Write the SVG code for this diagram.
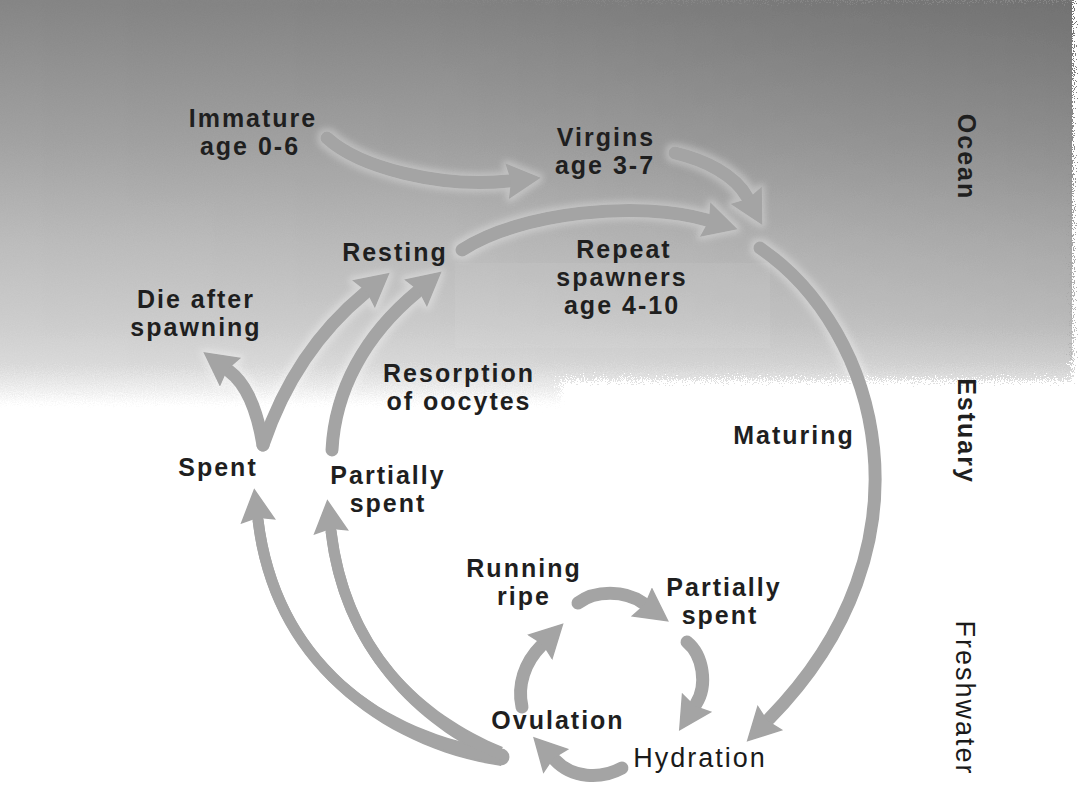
<svg xmlns="http://www.w3.org/2000/svg" width="1080" height="785" viewBox="0 0 1080 785">
<defs>
<style>
.t{font-family:"Liberation Sans",Arial,Helvetica,sans-serif;font-weight:bold;font-size:25px;letter-spacing:2px;fill:#1f1f1f;text-anchor:middle}
.rg{font-family:"Liberation Sans",Arial,Helvetica,sans-serif;font-weight:normal;font-size:27px;letter-spacing:2px;fill:#1a1a1a;text-anchor:middle}
.arr{fill:none;stroke:#a4a4a4;stroke-width:13;stroke-linecap:round;marker-end:url(#ah)}
.thin{stroke-width:11}
.taper{fill:#a4a4a4;stroke:none}
</style>
<linearGradient id="bgv" x1="0" y1="0" x2="0" y2="405" gradientUnits="userSpaceOnUse">
<stop offset="0" stop-color="#858585"/>
<stop offset="0.35" stop-color="#a2a2a2"/>
<stop offset="0.6" stop-color="#bcbcbc"/>
<stop offset="0.8" stop-color="#cdcdcd"/>
<stop offset="0.9" stop-color="#d9d9d9"/>
<stop offset="0.96" stop-color="#eeeeee"/>
<stop offset="1" stop-color="#ffffff"/>
</linearGradient>
<linearGradient id="bgh" x1="0" y1="0" x2="1080" y2="0" gradientUnits="userSpaceOnUse">
<stop offset="0" stop-color="#000" stop-opacity="0"/>
<stop offset="0.4" stop-color="#000" stop-opacity="0.02"/>
<stop offset="1" stop-color="#000" stop-opacity="0.15"/>
</linearGradient>
<linearGradient id="bghfade" x1="0" y1="0" x2="0" y2="405" gradientUnits="userSpaceOnUse">
<stop offset="0" stop-color="#fff" stop-opacity="1"/>
<stop offset="0.8" stop-color="#fff" stop-opacity="0.6"/>
<stop offset="1" stop-color="#fff" stop-opacity="0"/>
</linearGradient>
<mask id="hmask"><rect x="0" y="0" width="1080" height="405" fill="url(#bghfade)"/></mask>
<filter id="rough" filterUnits="userSpaceOnUse" x="0" y="0" width="1080" height="440">
<feTurbulence type="fractalNoise" baseFrequency="0.9" numOctaves="2" seed="3" result="n"/>
<feDisplacementMap in="SourceGraphic" in2="n" scale="22" xChannelSelector="R" yChannelSelector="G"/>
</filter>
<filter id="halo" filterUnits="userSpaceOnUse" x="0" y="0" width="1080" height="785">
<feMorphology in="SourceAlpha" operator="dilate" radius="3" result="d"/>
<feGaussianBlur in="d" stdDeviation="3" result="b"/>
<feFlood flood-color="#ffffff" flood-opacity="0.3"/>
<feComposite in2="b" operator="in" result="h"/>
<feMerge><feMergeNode in="h"/><feMergeNode in="SourceGraphic"/></feMerge>
</filter>
<marker id="ah" viewBox="0 0 34 36" refX="2" refY="18" markerWidth="34" markerHeight="36" markerUnits="userSpaceOnUse" orient="auto">
<path d="M0,0 L34,18 L0,36 L4,18 Z" fill="#a4a4a4"/>
</marker>
</defs>

<rect x="0" y="0" width="1080" height="785" fill="#ffffff"/>

<g id="background">
<rect x="0" y="0" width="1072" height="360" fill="url(#bgv)"/>
<rect x="0" y="0" width="1072" height="360" fill="url(#bgh)"/>
<g filter="url(#rough)">
<path d="M-20,-20 H1072 V380 H560 V405 H-20 Z" fill="url(#bgv)"/>
<path d="M-20,-20 H1072 V380 H560 V405 H-20 Z" fill="url(#bgh)" mask="url(#hmask)"/>
</g>
<rect x="455" y="263" width="315" height="85" fill="#ffffff" opacity="0.06"/>
</g>

<g id="connectors" filter="url(#halo)">
<path class="arr" d="M327,138 C360,168 440,188 509,181"/>
<path class="arr" d="M675,153 C705,160 735,175 747,197"/>
<path class="arr" d="M462,250 C520,212 640,200 707,220"/>
<path class="arr" d="M760,248 C880,330 940,545 769,719"/>
<path class="arr" d="M263,445 C258,415 248,385 229,371"/>
<path class="arr" d="M263,445 C285,380 320,330 365,293"/>
<path class="arr" d="M332,450 C335,390 365,335 417,292"/>
<path class="taper" d="M503,750 C381,732.6 281,659 263.4,519.3 L252.6,520.7 C269,661 379,747.4 501,766 Z"/>
<path class="taper" d="M502.9,747.1 C422.7,713.5 350.9,649.3 336.4,530.3 L325.6,531.7 C339.1,650.7 417.3,726.5 497.1,760.9 Z"/>
<circle class="taper" cx="501" cy="757" r="8.5"/>
<path class="arr thin" d="M502,758 C380,740 275,660 258,520"/>
<path class="arr thin" d="M500,754 C420,720 345,650 331,531"/>
<path class="arr" d="M578,603 C595,590 625,590 643,603"/>
<path class="arr" d="M687,642 C703,655 708,685 696,704"/>
<path class="arr" d="M622,768 C600,780 572,778 555,760"/>
<path class="arr" d="M522,707 C517,685 525,662 541,646"/>
</g>

<g id="immature"><text class="t" x="253" y="127">Immature<tspan x="250" dy="28">age 0-6</tspan></text></g>
<g id="virgins"><text class="t" x="606" y="146">Virgins<tspan x="605" dy="28">age 3-7</tspan></text></g>
<g id="repeat-spawners"><text class="t" x="624" y="258">Repeat<tspan x="622" dy="28">spawners</tspan><tspan x="622" dy="28">age 4-10</tspan></text></g>
<g id="resting"><text class="t" x="395" y="261">Resting</text></g>
<g id="die-after-spawning"><text class="t" x="196" y="308">Die after<tspan x="196" dy="28">spawning</tspan></text></g>
<g id="resorption"><text class="t" x="459" y="382">Resorption<tspan x="459" dy="28">of oocytes</tspan></text></g>
<g id="maturing"><text class="t" x="794" y="444">Maturing</text></g>
<g id="spent"><text class="t" x="218" y="476">Spent</text></g>
<g id="partially-spent-a"><text class="t" x="388" y="484">Partially<tspan x="388" dy="28">spent</tspan></text></g>
<g id="running-ripe"><text class="t" x="524" y="577">Running<tspan x="524" dy="28">ripe</tspan></text></g>
<g id="partially-spent-b"><text class="t" x="724" y="596">Partially<tspan x="720" dy="28">spent</tspan></text></g>
<g id="ovulation"><text class="t" x="558" y="729">Ovulation</text></g>
<g id="hydration"><text class="rg" x="700" y="767">Hydration</text></g>

<g id="zones">
<text class="t" transform="translate(958,157) rotate(90)">Ocean</text>
<text class="t" transform="translate(958,431) rotate(90)">Estuary</text>
<text class="rg" transform="translate(956,698) rotate(90)">Freshwater</text>
</g>
</svg>
